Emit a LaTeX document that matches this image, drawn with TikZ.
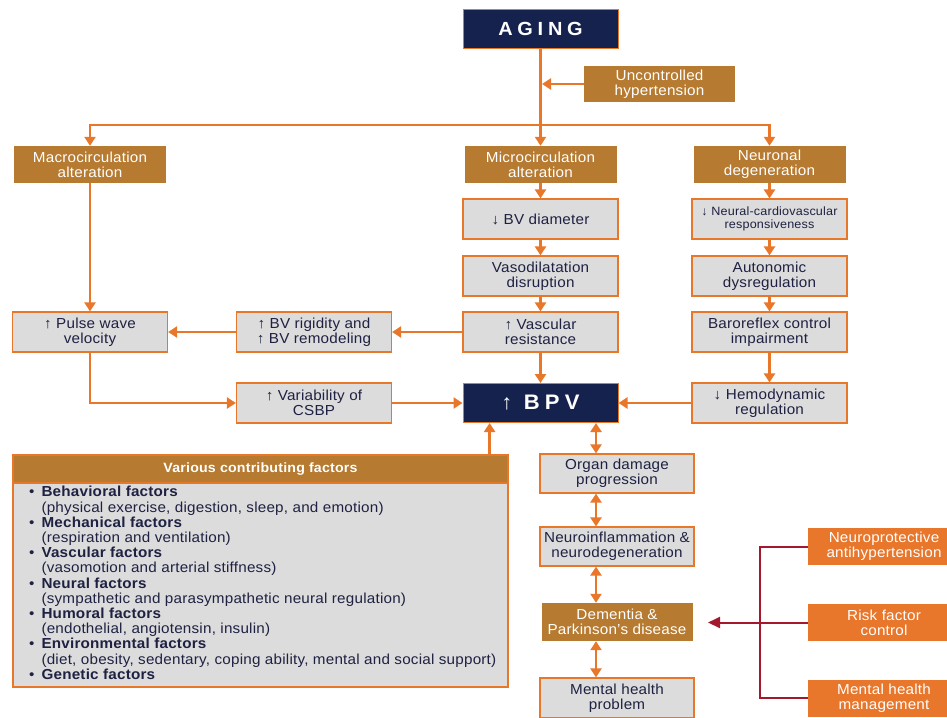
\documentclass[tikz,border=0pt]{standalone}
\usepackage{fontspec}
\setmainfont[FakeStretch=1.05,LetterSpace=1.5]{Liberation Sans}
\newfontfamily\capsfont[FakeStretch=1.05,LetterSpace=25]{Liberation Sans}
\usetikzlibrary{arrows.meta}
\definecolor{lineorange}{HTML}{E8772A}
\definecolor{boxbrown}{HTML}{B67A30}
\definecolor{boxorange}{HTML}{E8762B}
\definecolor{navyblue}{HTML}{16224E}
\definecolor{boxgray}{HTML}{DCDCDC}
\definecolor{darkred}{HTML}{A3182C}
\definecolor{inkblue}{HTML}{1E2142}
\tikzset{
  graybox/.style={draw=lineorange, line width=1.2pt, fill=boxgray, text=inkblue, minimum width=155pt, minimum height=40pt, align=center, inner sep=1pt, font=\fontsize{14.5}{15}\selectfont},
  brownbox/.style={fill=boxbrown, text=white, minimum width=152pt, minimum height=37pt, align=center, inner sep=1pt, font=\fontsize{14.5}{15}\selectfont},
  orangebox/.style={brownbox, fill=boxorange},
  navybox/.style={draw=lineorange, line width=1pt, fill=navyblue, text=white, minimum width=155pt, minimum height=39pt, inner sep=1pt, font=\capsfont\bfseries\fontsize{19}{21}\selectfont},
  arr/.style={draw=lineorange, line width=2.8pt, -{Triangle[width=11pt,length=9pt]}},
  dblarr/.style={draw=lineorange, line width=2.8pt, {Triangle[width=11pt,length=9pt]}-{Triangle[width=11pt,length=9pt]}},
  redline/.style={draw=darkred, line width=2pt},
  redarr/.style={redline, -{Triangle[width=11pt,length=12pt]}},
}
\begin{document}
\begin{tikzpicture}[x=1pt,y=-1pt]
\useasboundingbox (0,0) rectangle (947,717);
%top boxes
\node[navybox] (aging) at (540.5,29) {AGING};
\node[brownbox, minimum width=151pt, minimum height=36pt] (uncontr) at (659.5,84) {Uncontrolled\\hypertension};
%branch boxes
\node[brownbox] (macro) at (90,164.5) {Macrocirculation\\alteration};
\node[brownbox] (micro) at (540.5,164.5) {Microcirculation\\alteration};
\node[brownbox] (neuronal) at (769.5,164.5) {Neuronal\\degeneration};
%microcirculation chain
\node[graybox] (bvdiam) at (540.5,219) {↓ BV diameter};
\node[graybox] (vasodil) at (540.5,276) {Vasodilatation\\disruption};
\node[graybox] (vascres) at (540.5,332) {↑ Vascular\\resistance};
%neuronal chain
\node[graybox, font=\fontsize{12}{13}\selectfont] (neuralcv) at (769.5,219) {↓ Neural-cardiovascular\\responsiveness};
\node[graybox] (autonom) at (769.5,276) {Autonomic\\dysregulation};
\node[graybox] (barorefl) at (769.5,332) {Baroreflex control\\impairment};
\node[graybox] (hemodyn) at (769.5,403) {↓ Hemodynamic\\regulation};
%macrocirculation chain
\node[graybox] (pulse) at (90,332) {↑ Pulse wave\\velocity};
\node[graybox] (rigid) at (314,332) {↑ BV rigidity and\\↑ BV remodeling};
\node[graybox] (variab) at (314,403) {↑ Variability of\\CSBP};
\node[navybox, font=\capsfont\bfseries\fontsize{21}{23}\selectfont] (bpv) at (540.5,403) {↑ BPV};
%contributing factors
\node[graybox, minimum width=495pt, minimum height=204pt] (factbody) at (260.5,585) {};
\node[brownbox, draw=lineorange, line width=1.2pt, minimum width=495pt, minimum height=28pt, font=\bfseries\fontsize{13.5}{15}\selectfont] (facthead) at (260.5,469) {Various contributing factors};
\node[anchor=north west, inner sep=0pt, text=inkblue, font=\fontsize{14.5}{15.2}\selectfont] (factlist) at (29,486) {%
\begin{tabular}{@{}l@{\hspace{7pt}}l@{}}
\textbullet & \textbf{Behavioral factors}\\
 & (physical exercise, digestion, sleep, and emotion)\\
\textbullet & \textbf{Mechanical factors}\\
 & (respiration and ventilation)\\
\textbullet & \textbf{Vascular factors}\\
 & (vasomotion and arterial stiffness)\\
\textbullet & \textbf{Neural factors}\\
 & (sympathetic and parasympathetic neural regulation)\\
\textbullet & \textbf{Humoral factors}\\
 & (endothelial, angiotensin, insulin)\\
\textbullet & \textbf{Environmental factors}\\
 & (diet, obesity, sedentary, coping ability, mental and social support)\\
\textbullet & \textbf{Genetic factors}
\end{tabular}};
%outcome chain
\node[graybox, minimum width=154pt, minimum height=39pt] (organ) at (617,473.5) {Organ damage\\progression};
\node[graybox, minimum width=154pt, minimum height=39pt] (neuroinfl) at (617,546.5) {Neuroinflammation \&\\neurodegeneration};
\node[brownbox, minimum width=151pt, minimum height=38pt] (dementia) at (617,622) {Dementia \&\\Parkinson's disease};
\node[graybox, minimum width=154pt] (mentprob) at (617,698) {Mental health\\problem};
%interventions
\node[orangebox] (neuroprot) at (884,546.5) {Neuroprotective\\antihypertension};
\node[orangebox] (riskctrl) at (884,622.5) {Risk factor\\control};
\node[orangebox] (mentmgmt) at (884,698) {Mental health\\management};
%connectors
\coordinate (split) at (540.5,125);
\coordinate (redbus) at (760,622.5);
\coordinate (redtip) at (708,622.5);
\draw[arr] (aging) -- (micro);
\draw[arr, shorten >=1.5pt] (uncontr.west) -- (uncontr.west -| aging.south);
\draw[arr] (split) -| (macro.north);
\draw[arr] (split) -| (neuronal.north);
\draw[arr] (micro) -- (bvdiam);
\draw[arr] (bvdiam) -- (vasodil);
\draw[arr] (vasodil) -- (vascres);
\draw[arr] (vascres) -- (bpv);
\draw[arr] (neuronal) -- (neuralcv);
\draw[arr] (neuralcv) -- (autonom);
\draw[arr] (autonom) -- (barorefl);
\draw[arr] (barorefl) -- (hemodyn);
\draw[arr] (hemodyn) -- (bpv);
\draw[arr] (vascres) -- (rigid);
\draw[arr] (rigid) -- (pulse);
\draw[arr] (macro) -- (pulse);
\draw[arr] (pulse.south) |- (variab);
\draw[arr] (variab) -- (bpv);
\draw[arr] ([xshift=-19pt]facthead.north east) -- ([xshift=-19pt]facthead.north east |- bpv.south);
\draw[dblarr] ([xshift=-21pt]organ.north) -- ([xshift=-21pt]organ.north |- bpv.south);
\draw[dblarr] ([xshift=-21pt]neuroinfl.north) -- ([xshift=-21pt]organ.south);
\draw[dblarr] ([xshift=-21pt]dementia.north) -- ([xshift=-21pt]neuroinfl.south);
\draw[dblarr] ([xshift=-21pt]mentprob.north) -- ([xshift=-21pt]dementia.south);
\draw[redline] (neuroprot.west) -| (redbus) |- (mentmgmt.west);
\draw[redline] (riskctrl.west) -- (redbus);
\draw[redarr] (redbus) -- (redtip);
\end{tikzpicture}
\end{document}
